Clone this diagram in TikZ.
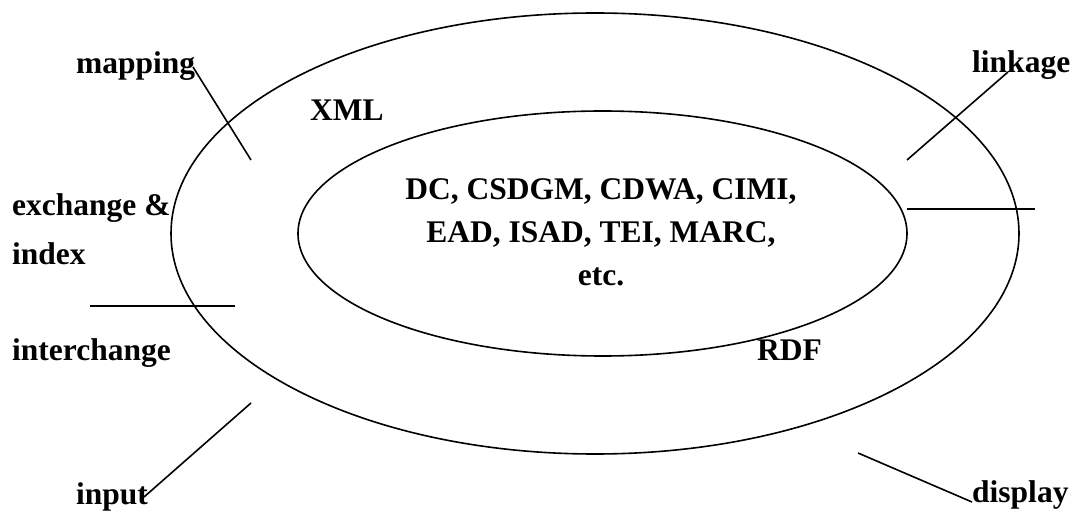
\documentclass[tikz,border=0pt]{standalone}
\usepackage{fontspec}
\setmainfont{Liberation Serif}
\usetikzlibrary{shapes.geometric}
\begin{document}
\begin{tikzpicture}[x=1pt,y=-1pt,
  lbl/.style={inner sep=0pt,anchor=base west,font=\fontsize{31.5}{38}\selectfont\bfseries},
  ring/.style={draw,ellipse,line width=1.6pt,inner sep=0pt},
  tie/.style={line width=1.6pt}]
  \useasboundingbox (0,0) rectangle (1074,513);
  % the two nested rings
  \node[ring,minimum width=848pt,minimum height=441pt] (outer) at (595,233.5) {};
  \node[ring,minimum width=609pt,minimum height=245pt] (inner) at (602.5,233.5) {};
  % standards listed in the inner ring (base anchor sits on the last line)
  \node[inner sep=0pt,align=center,font=\fontsize{31.5}{43}\selectfont\bfseries,anchor=base]
    (std) at (601,285) {DC, CSDGM, CDWA, CIMI,\\EAD, ISAD, TEI, MARC,\\etc.};
  % labels
  \node[lbl] (xml) at (310,121) {XML};
  \node[lbl] (rdf) at (757,360) {RDF};
  \node[lbl] (mapping) at (76,74) {mapping};
  \node[lbl] (linkage) at (972,73) {linkage};
  \node[lbl] (exch) at (12,216) {exchange \&};
  \node[lbl] (index) at (12,265) {index};
  \node[lbl] (inter) at (12,360) {interchange};
  \node[lbl] (input) at (76,504) {input};
  \node[lbl] (display) at (972,502) {display};
  % tick lines
  \coordinate (m1) at (193,67);   \coordinate (m2) at (251,160);
  \coordinate (l1) at (1008,72);  \coordinate (l2) at (907,160);
  \coordinate (r1) at (907,209);  \coordinate (r2) at (1035,209);
  \coordinate (h1) at (90,306);   \coordinate (h2) at (235,306);
  \coordinate (i1) at (144,497);  \coordinate (i2) at (251,403);
  \coordinate (d1) at (858,453);  \coordinate (d2) at (972,502);
  \draw[tie] (m1) -- (m2);
  \draw[tie] (l1) -- (l2);
  \draw[tie] (r1) -- (r2);
  \draw[tie] (h1) -- (h2);
  \draw[tie] (i1) -- (i2);
  \draw[tie] (d1) -- (d2);
\end{tikzpicture}
\end{document}
